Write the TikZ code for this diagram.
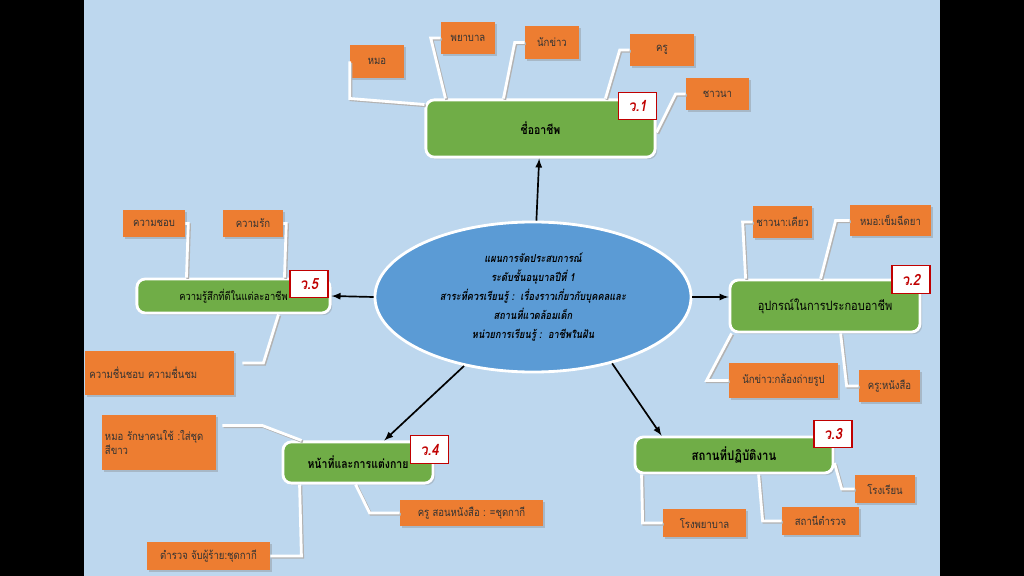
\documentclass[tikz,border=0pt]{standalone}
\usepackage{fontspec}
\setmainfont[Script=Thai, FakeStretch=0.85]{Loma}
\usepackage{tikz}
\usetikzlibrary{shapes,positioning,calc}
\usetikzlibrary{shapes.geometric, arrows}
\usetikzlibrary{arrows.meta}
\usetikzlibrary{shadows}
\definecolor{bgblue}{RGB}{189,215,238}
\definecolor{jobgreen}{RGB}{112,173,71}
\definecolor{itemorange}{RGB}{237,125,49}
\definecolor{planblue}{RGB}{91,155,213}
\definecolor{tagred}{RGB}{192,0,0}
\tikzstyle{hub} = [ellipse, minimum width=7.9cm, minimum height=3.75cm, inner sep=0pt, fill=planblue, draw=white, line width=2pt,
align=center, font=\bfseries\itshape\fontsize{7.8}{13.5}\selectfont]
\tikzstyle{job} = [rectangle, rounded corners=6pt, fill=jobgreen, draw=white, line width=2pt,
drop shadow={shadow xshift=1.5pt, shadow yshift=-1.5pt, opacity=0.3}, text=black]
\tikzstyle{item} = [rectangle, fill=itemorange, inner sep=2pt, text=black!80,
drop shadow={shadow xshift=1.5pt, shadow yshift=-1.5pt, opacity=0.35}, font=\fontsize{8}{10}\selectfont]
\tikzstyle{tag} = [rectangle, fill=white, draw=tagred, line width=0.8pt, text=tagred,
minimum width=0.95cm, minimum height=0.68cm, font=\bfseries\itshape\fontsize{11}{12}\selectfont]
\tikzstyle{leg} = [white, line width=2pt,
preaction={draw=black!30, line width=2pt, transform canvas={shift={(0.9pt,-0.9pt)}}}]
\tikzstyle{arrow} = [thick,->,>=latex, line width=1.2pt]

\begin{document}
\begin{tikzpicture}[x=0.025cm, y=-0.025cm]
				\useasboundingbox (0,0) rectangle (1024,576);
				\fill[black] (0,0) rectangle (1024,576);
				\fill[bgblue] (84,0) rectangle (940,576);
				% centre
				\node (plan) at (533,297) [hub] {แผนการจัดประสบการณ์\\ระดับชั้นอนุบาลปีที่ 1\\สาระที่ควรเรียนรู้ :~~เรื่องราวเกี่ยวกับบุคคลและ\\สถานที่แวดล้อมเด็ก\\หน่วยการเรียนรู้ :~~อาชีพในฝัน};
				% jobs
				\node (j1) at (540.5,128.5) [job, minimum width=5.73cm, minimum height=1.43cm, font=\bfseries\fontsize{8.8}{11}\selectfont] {ชื่ออาชีพ};
				\node (j2) at (825,306) [job, minimum width=4.75cm, minimum height=1.3cm, font=\fontsize{9.2}{11}\selectfont] {อุปกรณ์ในการประกอบอาชีพ};
				\node (j3) at (734,455) [job, minimum width=4.95cm, minimum height=0.9cm, font=\bfseries\fontsize{9.5}{11}\selectfont] {สถานที่ปฏิบัติงาน};
				\node (j4) at (358,462.5) [job, minimum width=3.75cm, minimum height=1.03cm, font=\bfseries\fontsize{8.8}{11}\selectfont] {หน้าที่และการแต่งกาย\hspace{0.6cm}};
				\node (j5) at (233.5,296) [job, minimum width=4.83cm, minimum height=0.85cm, font=\fontsize{7.8}{10}\selectfont] {ความรู้สึกที่ดีในแต่ละอาชีพ};
				\node (t1) at (637.5,106) [tag] {ว.1};
				\node (t2) at (911,279.5) [tag] {ว.2};
				\node (t3) at (833,434) [tag] {ว.3};
				\node (t4) at (429.5,449.5) [tag] {ว.4};
				\node (t5) at (309,284) [tag] {ว.5};
				% items
				\node (o11) at (377,61.5) [item, minimum width=1.35cm, minimum height=0.83cm] {หมอ\hspace{0.45cm}};
				\node (o12) at (468,38) [item, minimum width=1.35cm, minimum height=0.8cm] {พยาบาล};
				\node (o13) at (552,42.5) [item, minimum width=1.35cm, minimum height=0.83cm] {นักข่าว\hspace{0.3cm}};
				\node (o14) at (662,50) [item, minimum width=1.6cm, minimum height=0.8cm] {ครู};
				\node (o15) at (717.5,94) [item, minimum width=1.58cm, minimum height=0.8cm] {ชาวนา\hspace{0.3cm}};
				\node (o21) at (782.5,222) [item, minimum width=1.48cm, minimum height=0.8cm] {ชาวนา:เคียว};
				\node (o22) at (890.5,220.5) [item, minimum width=2.03cm, minimum height=0.78cm] {หมอ:เข็มฉีดยา};
				\node (o23) at (783.5,380.5) [item, minimum width=2.73cm, minimum height=0.88cm] {นักข่าว:กล้องถ่ายรูป};
				\node (o24) at (889.5,386) [item, minimum width=1.53cm, minimum height=0.8cm] {ครู:หนังสือ};
				\node (o31) at (885,489) [item, minimum width=1.5cm, minimum height=0.7cm] {โรงเรียน};
				\node (o32) at (820.5,521) [item, minimum width=1.93cm, minimum height=0.7cm] {สถานีตำรวจ};
				\node (o33) at (704.5,523) [item, minimum width=2.08cm, minimum height=0.7cm] {โรงพยาบาล};
				\node (o41) at (159,442.5) [item, minimum width=2.85cm, minimum height=1.38cm, text width=2.7cm, align=left] {หมอ รักษาคนใช้ :ใส่ชุด\\สีขาว\\[4pt]};
				\node (o42) at (208.5,556) [item, minimum width=3.08cm, minimum height=0.7cm] {ตำรวจ จับผู้ร้าย:ชุดกากี};
				\node (o43) at (471.5,513) [item, minimum width=3.58cm, minimum height=0.65cm] {ครู สอนหนังสือ : =ชุดกากี};
				\node (o51) at (154,223.5) [item, minimum width=1.55cm, minimum height=0.68cm] {ความชอบ};
				\node (o52) at (253,223.5) [item, minimum width=1.5cm, minimum height=0.68cm] {ความรัก};
				\node (o53) at (159.5,373) [item, minimum width=3.73cm, minimum height=1.1cm, text width=3.5cm, align=left] {ความชื่นชอบ ความชื่นชม\\[6pt]};
				% arrows
				\draw[arrow] (plan) -- (j1);
				\draw[arrow] (plan.east) -- (j2.west |- plan.east);
				\draw[arrow] (plan.-40) -- (j3.165);
				\draw[arrow] (plan.-135) -- (j4.40);
				\draw[arrow] (plan.west) -- (j5.east);
				% legs
				\draw[leg] (o11.west) -- ++(0,37) -- ([shift={(0,6)}]j1.north west);
				\draw[leg] (o12.west) -- ++(-10,0) -- ([shift={(21,0)}]j1.north west);
				\draw[leg] (o13.west) -- ++(-10,0) -- ([shift={(79,0)}]j1.north west);
				\draw[leg] (o14.west) -- ++(-10,0) -- ([shift={(181,0)}]j1.north west);
				\draw[leg] (o15.west) -- ++(-10,0) -- ([shift={(0,4)}]j1.east);
				\draw[leg] (o21.west) -- ++(-10,0) -- ([shift={(17,0)}]j2.north west);
				\draw[leg] (o22.west) -- ++(-14,0) -- ([shift={(92,0)}]j2.north west);
				\draw[leg] (o23.west) -- ++(-22,0) -- ([shift={(3,0)}]j2.south west);
				\draw[leg] (o24.west) -- ++(-12,0) -- ([shift={(112,0)}]j2.south west);
				\draw[leg] (o31.west) -- ++(-13,0) -- ([shift={(0,8)}]j3.east);
				\draw[leg] (o32.west) -- ++(-19,0) -- ([shift={(125,0)}]j3.south west);
				\draw[leg] (o33.west) -- ++(-20,0) -- ([shift={(8,0)}]j3.south west);
				\draw[leg] ([shift={(6,-17)}]o41.east) -- ++(40,0) -- ([shift={(20,0)}]j4.north west);
				\draw[leg] (o42.east) -- ++(31,0) -- ([shift={(18,0)}]j4.south west);
				\draw[leg] (o43.west) -- ++(-30,0) -- ([shift={(74,0)}]j4.south west);
				\draw[leg] (o51.east) -- ++(3,0) -- ([shift={(51,0)}]j5.north west);
				\draw[leg] (o52.east) -- ++(3,0) -- ([shift={(149,0)}]j5.north west);
				\draw[leg] ([shift={(8,-10)}]o53.east) -- ++(21,0) -- ([shift={(143,0)}]j5.south west);
				\end{tikzpicture}
\end{document}
